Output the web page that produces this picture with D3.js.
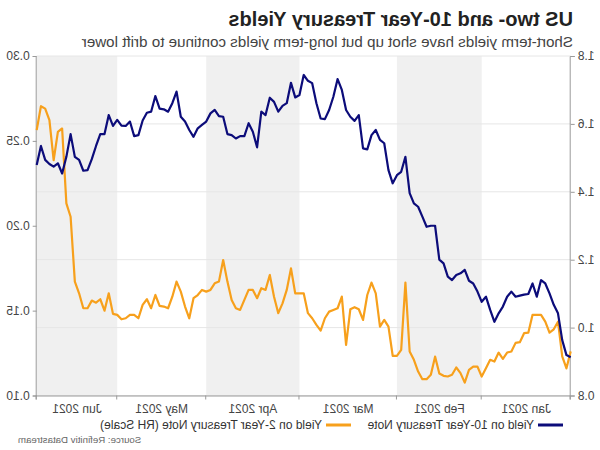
<!DOCTYPE html>
<html>
<head>
<meta charset="utf-8">
<script src="https://cdn.jsdelivr.net/npm/d3@7"></script>
<style>
  html, body { margin: 0; padding: 0; background: #fff; }
  svg { display: block; transform: scaleX(-1); font-family: "Liberation Sans", Arial, sans-serif; }
</style>
</head>
<body>
<svg id="chart" width="600" height="450"></svg>
<script>
// Month categories and number of weekday observations in each month
const months = ["Jan 2021", "Feb 2021", "Mar 2021", "Apr 2021", "May 2021", "Jun 2021"];
const monthCounts = [21, 20, 23, 22, 21, 20];

// Yield on 10-Year Treasury Note (left scale), one value per weekday
const yield10 = [
  0.913, 0.919, 0.963, 1.042, 1.067, 1.101, 1.130, 1.140, 1.091, 1.130,
  1.099, 1.097, 1.094, 1.091, 1.106, 1.091, 1.062, 1.042, 1.017, 1.052,
  1.091, 1.076, 1.106, 1.130, 1.138, 1.170, 1.160, 1.155, 1.140, 1.150,
  1.189, 1.200, 1.300, 1.300, 1.297, 1.327, 1.356, 1.366, 1.396, 1.503,
  1.459, 1.449, 1.425, 1.464, 1.543, 1.553, 1.582, 1.567, 1.525, 1.528,
  1.626, 1.609, 1.621, 1.641, 1.700, 1.732, 1.680, 1.641, 1.614, 1.616,
  1.661, 1.720, 1.727, 1.744, 1.685, 1.678, 1.721, 1.661, 1.653, 1.636,
  1.665, 1.677, 1.626, 1.636, 1.531, 1.577, 1.602, 1.564, 1.564, 1.557,
  1.567, 1.570, 1.621, 1.623, 1.641, 1.631, 1.607, 1.597, 1.587, 1.562,
  1.582, 1.607, 1.621, 1.695, 1.661, 1.636, 1.643, 1.645, 1.682, 1.636,
  1.633, 1.610, 1.567, 1.564, 1.607, 1.594, 1.595, 1.612, 1.594, 1.626,
  1.570, 1.570, 1.535, 1.496, 1.464, 1.462, 1.494, 1.503, 1.570, 1.503,
  1.454, 1.484, 1.474, 1.482, 1.494, 1.535, 1.479
];

// Yield on 2-Year Treasury Note (right scale)
const yield2 = [
  0.126, 0.116, 0.123, 0.1435, 0.139, 0.137, 0.1435, 0.1475, 0.1475, 0.1475,
  0.137, 0.1367, 0.1314, 0.131, 0.1259, 0.1253, 0.1216, 0.1253, 0.120, 0.121,
  0.1161, 0.1112, 0.117, 0.117, 0.1151, 0.1076, 0.1132, 0.1165, 0.1122, 0.1112,
  0.1116, 0.113, 0.1229, 0.1122, 0.1096, 0.1096, 0.1141, 0.121, 0.1259, 0.1665,
  0.1269, 0.1234, 0.1234, 0.1406, 0.1445, 0.1406, 0.1602, 0.1665, 0.1592, 0.1445,
  0.1508, 0.152, 0.1508, 0.1298, 0.1582, 0.1514, 0.1504, 0.1494, 0.1455, 0.1382,
  0.1416, 0.1455, 0.1485, 0.1602, 0.1602, 0.1602, 0.1749, 0.1622, 0.1543, 0.1485,
  0.1582, 0.171, 0.1622, 0.1632, 0.1573, 0.1622, 0.1622, 0.1563, 0.1504, 0.1514,
  0.1563, 0.1671, 0.1798, 0.1671, 0.1661, 0.1622, 0.1612, 0.1622, 0.1592, 0.1573,
  0.1455, 0.1524, 0.1612, 0.1671, 0.1582, 0.1514, 0.1524, 0.1528, 0.1592, 0.1514,
  0.1567, 0.1534, 0.1455, 0.1475, 0.1475, 0.1455, 0.1449, 0.1475, 0.1481, 0.1602,
  0.150, 0.1567, 0.1547, 0.1559, 0.1514, 0.1514, 0.1602, 0.1671, 0.2053, 0.2132,
  0.2573, 0.2553, 0.2386, 0.2622, 0.269, 0.2704, 0.2563
];

const leftTicks = [0.8, 1.0, 1.2, 1.4, 1.6, 1.8];
const rightTicks = [0.10, 0.15, 0.20, 0.25, 0.30];

const titleText = "US two- and 10-Year Treasury Yields";
const subtitleText = "Short-term yields have shot up but long-term yields continue to drift lower";
const legendLabels = ["Yield on 10-Year Treasury Note", "Yield on 2-Year Treasury Note (RH Scale)"];
const sourceText = "Source: Refinitiv Datastream";

const colNavy = "#0c0c7a";
const colOrange = "#f7a01c";

const svg = d3.select("#chart");
const L = 29.3, R = 563.3, T = 56, B = 395.5;

const n = yield10.length;
const x = d3.scaleLinear().domain([0, n - 1]).range([L, R]);
const yL = d3.scaleLinear().domain([0.8, 1.8]).range([B, T]);
const yR = d3.scaleLinear().domain([0.10, 0.30]).range([B, T]);

// month boundaries
const starts = [0];
monthCounts.forEach((c, i) => starts.push(starts[i] + c));
const bounds = starts.map((s, i) => Math.min(s, n - 1));

// bands
svg.append("g").selectAll("rect").data(months).join("rect")
  .attr("x", (d, i) => x(bounds[i]))
  .attr("y", T)
  .attr("width", (d, i) => x(bounds[i + 1]) - x(bounds[i]))
  .attr("height", B - T)
  .attr("fill", (d, i) => i % 2 === 1 ? "#f0f0f0" : "none");

// gridlines
svg.append("g").selectAll("line").data(leftTicks).join("line")
  .attr("x1", L).attr("x2", R)
  .attr("y1", d => yL(d)).attr("y2", d => yL(d))
  .attr("stroke", "#e6e6e6").attr("stroke-width", 1);

// axes
const fmtL = d3.format(".1f"), fmtR = d3.format(".2f");
const axL = svg.append("g").attr("transform", `translate(${L},0)`)
  .call(d3.axisLeft(yL).tickValues(leftTicks).tickFormat(fmtL).tickSize(4).tickPadding(3));
const axR = svg.append("g").attr("transform", `translate(${R},0)`)
  .call(d3.axisRight(yR).tickValues(rightTicks).tickFormat(fmtR).tickSize(4).tickPadding(3));
const axB = svg.append("g").attr("transform", `translate(0,${B})`)
  .call(d3.axisBottom(x).tickValues(bounds).tickFormat("").tickSize(4));
[axL, axR, axB].forEach(a => {
  a.selectAll(".domain").attr("stroke", "#9a9a9a");
  a.selectAll(".tick line").attr("stroke", "#9a9a9a");
  a.selectAll("text").attr("fill", "#444").style("font-size", "12px")
    .style("font-family", "'Liberation Sans', Arial, sans-serif");
});

// month labels
svg.append("g").selectAll("text").data(months).join("text")
  .attr("x", (d, i) => (x(bounds[i]) + x(bounds[i + 1])) / 2)
  .attr("y", 413)
  .attr("text-anchor", "middle")
  .attr("fill", "#444").style("font-size", "12px")
  .text(d => d);

// lines
const line10 = d3.line().x((d, i) => x(i)).y(d => yL(d));
const line2 = d3.line().x((d, i) => x(i)).y(d => yR(d));
svg.append("path").datum(yield2).attr("d", line2)
  .attr("fill", "none").attr("stroke", colOrange).attr("stroke-width", 2.2).attr("stroke-linejoin", "round");
svg.append("path").datum(yield10).attr("d", line10)
  .attr("fill", "none").attr("stroke", colNavy).attr("stroke-width", 2.2).attr("stroke-linejoin", "round");

// title
svg.append("text").attr("x", 27).attr("y", 26)
  .style("font-size", "20px").style("font-weight", "bold").attr("fill", "#222").text(titleText);
svg.append("text").attr("x", 27).attr("y", 47)
  .style("font-size", "15.2px").attr("fill", "#444").text(subtitleText);

// legend
const leg = [
  { x: 37, color: colNavy, label: legendLabels[0] },
  { x: 249, color: colOrange, label: legendLabels[1] }
];
const lg = svg.append("g").selectAll("g").data(leg).join("g");
lg.append("line").attr("x1", d => d.x).attr("x2", d => d.x + 25)
  .attr("y1", 425).attr("y2", 425).attr("stroke", d => d.color).attr("stroke-width", 3);
lg.append("text").attr("x", d => d.x + 29).attr("y", 429)
  .attr("fill", "#333").style("font-size", "12px").text(d => d.label);

// source
svg.append("text").attr("x", 582).attr("y", 443).attr("text-anchor", "end")
  .attr("fill", "#666").style("font-size", "9.7px").text(sourceText);
</script>
</body>
</html>
